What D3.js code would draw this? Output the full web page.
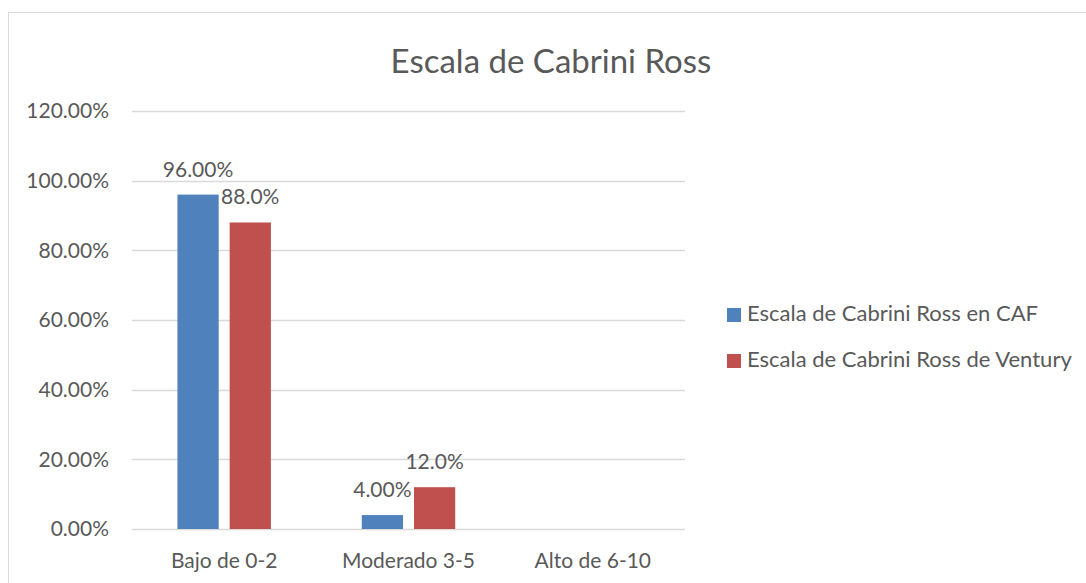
<!DOCTYPE html>
<html>
<head>
<meta charset="utf-8">
<script src="https://d3js.org/d3.v7.min.js"></script>
<style>
  body { margin: 0; background: #fff; }
  text { font-family: Lato, "Open Sans", sans-serif; fill: #595959; }
</style>
</head>
<body>
<script>
// datos del grafico
var categorias = ["Bajo de 0-2", "Moderado 3-5", "Alto de 6-10"];
var series = ["Escala de Cabrini Ross en CAF", "Escala de Cabrini Ross de Ventury"];
var valoresCAF = [0.96, 0.04, null];
var valoresVentury = [0.88, 0.12, null];
var etiquetasCAF = ["96.00%", "4.00%", ""];
var etiquetasVentury = ["88.0%", "12.0%", ""];
var ticks = [0, 0.2, 0.4, 0.6, 0.8, 1.0, 1.2];
var colores = ["#4F81BD", "#C0504D"];

var ancho = 1086, alto = 583;
var margen = { left: 132, right: 401, top: 111, bottom: 54 };

var svg = d3.select("body").append("svg")
    .attr("width", ancho)
    .attr("height", alto);

// borde del area del grafico
svg.append("rect")
    .attr("x", 8.5).attr("y", 12.5)
    .attr("width", 1090).attr("height", 600)
    .attr("fill", "none")
    .attr("stroke", "#D9D9D9");

var x = d3.scaleBand()
    .domain(categorias)
    .range([margen.left, ancho - margen.right]);

var xs = d3.scaleBand()
    .domain(series)
    .range([0, x.bandwidth()])
    .paddingInner(0.21)
    .paddingOuter(0.87);

var y = d3.scaleLinear()
    .domain([0, 1.2])
    .range([alto - margen.bottom, margen.top]);

// lineas de cuadricula
svg.append("g")
    .selectAll("line")
    .data(ticks)
    .join("line")
    .attr("x1", margen.left).attr("x2", ancho - margen.right)
    .attr("y1", d => Math.round(y(d)) + 0.5)
    .attr("y2", d => Math.round(y(d)) + 0.5)
    .attr("stroke", "#D9D9D9")
    .attr("stroke-width", 1.3);

// eje y
var ejeY = d3.axisLeft(y)
    .tickValues(ticks)
    .tickFormat(d3.format(".2%"))
    .tickSize(0)
    .tickPadding(23);

svg.append("g")
    .attr("transform", "translate(" + margen.left + ",0)")
    .call(ejeY)
    .call(g => g.select(".domain").remove())
    .selectAll("text")
    .style("font-size", "21px")
    .attr("fill", "#595959");

// eje x
var ejeX = d3.axisBottom(x).tickSize(0).tickPadding(24);
svg.append("g")
    .attr("transform", "translate(0," + (alto - margen.bottom) + ")")
    .call(ejeX)
    .call(g => g.select(".domain").remove())
    .selectAll("text")
    .style("font-size", "21px")
    .attr("fill", "#595959");

var datos = [valoresCAF, valoresVentury];
var etiquetas = [etiquetasCAF, etiquetasVentury];

series.forEach(function (s, i) {
    var g = svg.append("g");
    var filas = categorias.map((c, j) => ({ cat: c, v: datos[i][j], lab: etiquetas[i][j] }))
        .filter(d => d.v !== null);

    g.selectAll("rect")
        .data(filas)
        .join("rect")
        .attr("x", d => x(d.cat) + xs(s))
        .attr("y", d => y(d.v))
        .attr("width", xs.bandwidth())
        .attr("height", d => y(0) - y(d.v))
        .attr("fill", colores[i]);

    g.selectAll("text")
        .data(filas)
        .join("text")
        .attr("x", d => x(d.cat) + xs(s) + xs.bandwidth() / 2)
        .attr("y", d => y(d.v) - 18)
        .attr("text-anchor", "middle")
        .style("font-size", "21px")
        .attr("fill", "#404040")
        .text(d => d.lab);
});

// titulo
svg.append("text")
    .attr("x", 551)
    .attr("y", 73)
    .attr("text-anchor", "middle")
    .style("font-size", "33px")
    .text("Escala de Cabrini Ross");

// leyenda
var leyenda = svg.append("g").attr("transform", "translate(727,308)");
var item = leyenda.selectAll("g")
    .data(series)
    .join("g")
    .attr("transform", (d, i) => "translate(0," + i * 46 + ")");

item.append("rect")
    .attr("width", 14).attr("height", 14)
    .attr("fill", (d, i) => colores[i]);

item.append("text")
    .attr("x", 20)
    .attr("y", 13)
    .style("font-size", "22px")
    .text(d => d);
</script>
</body>
</html>
